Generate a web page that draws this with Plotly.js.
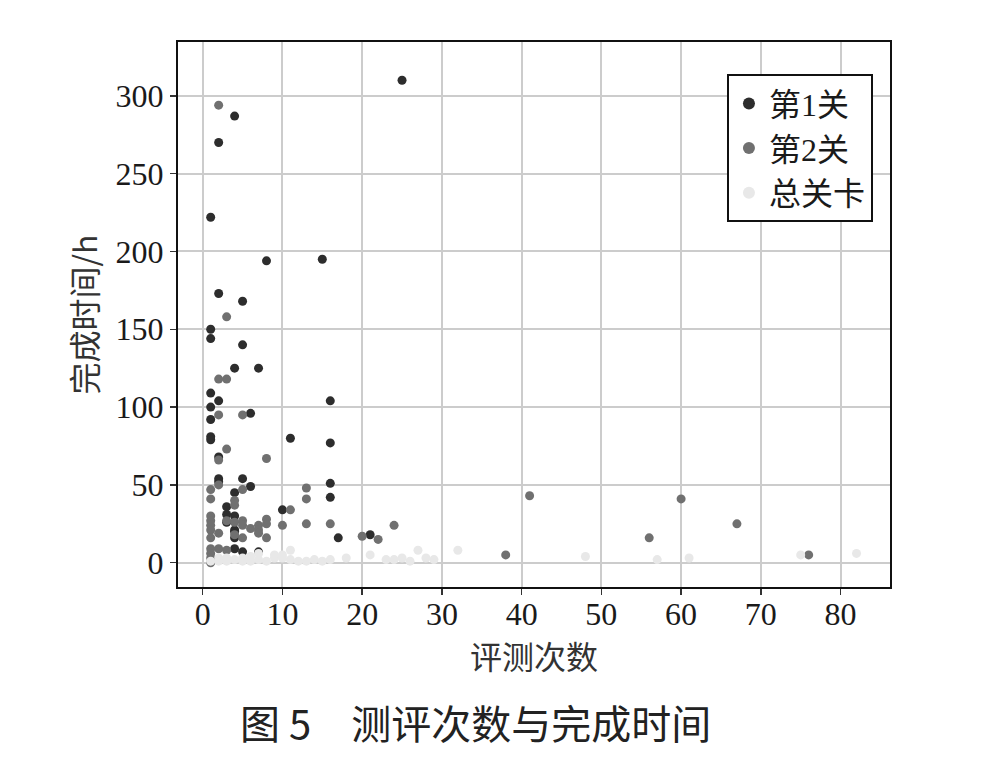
<!DOCTYPE html>
<html><head><meta charset="utf-8">
<script src="https://cdn.plot.ly/plotly-3.0.1.min.js"></script>
<style>html,body{margin:0;padding:0;background:#fff;}#chart{width:992px;height:762px;}</style>
</head><body><div id="chart"></div>
<script>
// 第1关
const level1X = [25,4,2,1,8,15,2,5,1,1,5,4,7,1,2,16,1,6,1,1,1,11,16,2,2,2,5,16,6,4,16,3,4,3,3,4,4,4,10,17,4,5,7,21];
const level1Y = [310,287,270,222,194,195,173,168,150,144,140,125,125,109,104,104,100,96,92,81,79,80,77,68,54,52,54,51,49,45,42,36,30,31,26,20,21,16,34,16,9,7,7,18];
// 第2关
const level2X = [2,3,2,3,2,5,3,2,8,2,1,5,13,1,4,13,4,11,1,1,1,1,3,4,5,5,6,7,7,7,8,8,8,10,13,16,1,2,1,1,1,1,2,3,20,22,24,41,38,60,56,67,76,5,4];
const level2Y = [294,158,118,118,95,95,73,66,67,50,47,47,48,41,40,41,37,34,30,27,24,21,27,26,27,24,22,24,21,19,28,25,16,24,25,25,16,19,9,6,3,0,9,8,17,15,24,43,5,41,16,25,5,16,18];
// 总关卡
const totalX = [1,2,3,4,5,6,7,8,9,10,11,12,13,14,15,16,18,21,23,24,25,26,27,28,29,32,48,57,61,75,82,2,3,5,6,7,9,10,11];
const totalY = [1,1,1,2,1,1,2,1,3,5,2,1,1,2,1,2,3,5,2,2,3,1,8,3,2,8,4,2,3,5,6,3,3,3,4,6,5,3,8];

const seriesNames = ['第1关','第2关','总关卡'];
const xTicks = [0,10,20,30,40,50,60,70,80];
const yTicks = [0,50,100,150,200,250,300];

const colors = ['#2d2d2d','#707070','#e8e8e8'];
const xs = [level1X, level2X, totalX];
const ys = [level1Y, level2Y, totalY];
const traces = seriesNames.map((n,i)=>({
  type:'scatter', mode:'markers', name:n, x:xs[i], y:ys[i],
  marker:{color:colors[i], size:9, line:{width:0}}
}));

const serif = 'Liberation Serif, Times New Roman, serif';
const cjk = 'Noto Sans CJK SC, sans-serif';
const axisCommon = {
  showline:true, linecolor:'#111', linewidth:2, mirror:true,
  ticks:'outside', ticklen:6, tickwidth:1.5, tickcolor:'#333',
  showgrid:true, gridcolor:'#cccccc', gridwidth:2, zeroline:false,
  tickfont:{family:serif, size:32, color:'#1a1a1a'}
};
const layout = {
  width:992, height:762,
  margin:{l:178, r:102, t:42, b:175},
  paper_bgcolor:'#fff', plot_bgcolor:'#fff',
  showlegend:true,
  legend:{x:0.771, y:0.941, xanchor:'left', yanchor:'top',
    bgcolor:'#fff', bordercolor:'#111', borderwidth:2,
    font:{family:serif+', '+cjk, size:32, color:'#1a1a1a'}, itemsizing:'constant', tracegroupgap:0, itemwidth:30},
  xaxis:Object.assign({}, axisCommon, {range:[-3.1,86.2], tickvals:xTicks, ticklabelstandoff:-8,
    title:{text:'评测次数', font:{family:cjk, size:32, color:'#333'}, standoff:12}}),
  yaxis:Object.assign({}, axisCommon, {range:[-15.6,334.6], tickvals:yTicks,
    title:{text:'完成时间/h', font:{family:cjk, size:32, color:'#333'}, standoff:8}}),
  annotations:[{text:'图 5　测评次数与完成时间', xref:'paper', yref:'paper', x:0.4185, y:-0.2477,
    xanchor:'center', yanchor:'middle', showarrow:false,
    font:{family:cjk, size:40, color:'#222'}}]
};
Plotly.newPlot('chart', traces, layout, {displayModeBar:false, staticPlot:true});
</script></body></html>
